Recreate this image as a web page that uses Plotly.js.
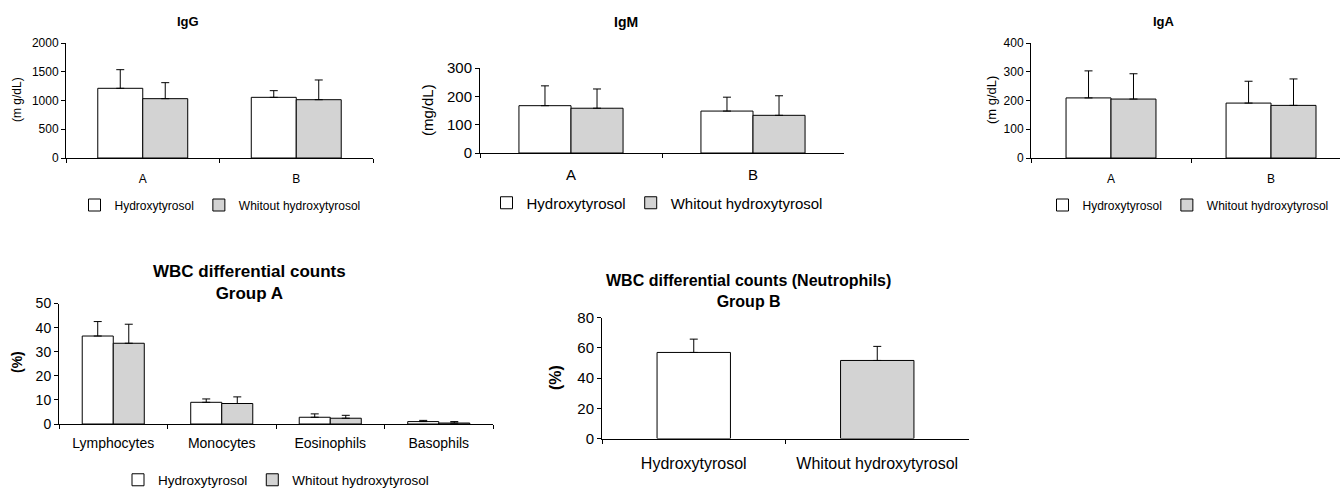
<!DOCTYPE html>
<html>
<head>
<meta charset="utf-8">
<script src="https://cdn.plot.ly/plotly-3.0.1.min.js"></script>
<style>html,body{margin:0;padding:0;background:#fff;}#chart{width:1340px;height:488px;}</style>
</head>
<body>
<div id="chart"></div>
<script>
// ---------- data ----------
const seriesNames = ['Hydroxytyrosol', 'Whitout hydroxytyrosol'];
const groupCategories = ['A', 'B'];

const igGHydroxy = [1212, 1055];
const igGHydroxySD = [324, 116];
const igGWithout = [1032, 1014];
const igGWithoutSD = [278, 343];

const igMHydroxy = [167, 148];
const igMHydroxySD = [70, 49];
const igMWithout = [158, 133];
const igMWithoutSD = [68, 69];

const igAHydroxy = [209, 191];
const igAHydroxySD = [94, 76];
const igAWithout = [205, 183];
const igAWithoutSD = [88, 92];

const wbcCategories = ['Lymphocytes', 'Monocytes', 'Eosinophils', 'Basophils'];
const wbcAHydroxy = [36.5, 9.0, 2.8, 1.0];
const wbcAHydroxySD = [6.0, 1.4, 1.4, 0.5];
const wbcAWithout = [33.5, 8.5, 2.4, 0.4];
const wbcAWithoutSD = [7.9, 2.75, 1.2, 0.6];

const neutroCategories = ['Hydroxytyrosol', 'Whitout hydroxytyrosol'];
const neutroValues = [56.9, 51.6];
const neutroSD = [8.8, 9.3];

// ---------- styling helpers ----------
const W = 1340, H = 488;
const px = x => x / W;
const py = y => 1 - y / H;
const FONT = 'Liberation Sans, Arial, Helvetica, sans-serif';
const colors = ['#ffffff', '#d3d3d3'];

function errUp(sd, w) {
  return {type: 'data', symmetric: false, array: sd, arrayminus: sd.map(() => 0),
          color: '#000', thickness: 1, width: w};
}
function barTrace(cats, vals, sd, idx, xa, ya, bw, legend, showlegend) {
  return {
    type: 'bar', x: cats, y: vals, name: seriesNames[idx],
    xaxis: xa, yaxis: ya,
    offset: idx === 0 ? -bw : 0, width: bw,
    marker: {color: colors[idx], line: {color: '#000', width: 1}},
    error_y: errUp(sd, 4),
    legend: legend, showlegend: showlegend, hoverinfo: 'skip'
  };
}

const data = [
  barTrace(groupCategories, igGHydroxy, igGHydroxySD, 0, 'x', 'y', 0.293, 'legend', true),
  barTrace(groupCategories, igGWithout, igGWithoutSD, 1, 'x', 'y', 0.293, 'legend', true),
  barTrace(groupCategories, igMHydroxy, igMHydroxySD, 0, 'x2', 'y2', 0.286, 'legend2', true),
  barTrace(groupCategories, igMWithout, igMWithoutSD, 1, 'x2', 'y2', 0.286, 'legend2', true),
  barTrace(groupCategories, igAHydroxy, igAHydroxySD, 0, 'x3', 'y3', 0.281, 'legend3', true),
  barTrace(groupCategories, igAWithout, igAWithoutSD, 1, 'x3', 'y3', 0.281, 'legend3', true),
  barTrace(wbcCategories, wbcAHydroxy, wbcAHydroxySD, 0, 'x4', 'y4', 0.286, 'legend4', true),
  barTrace(wbcCategories, wbcAWithout, wbcAWithoutSD, 1, 'x4', 'y4', 0.286, 'legend4', true),
  {
    type: 'bar', x: neutroCategories, y: neutroValues, xaxis: 'x5', yaxis: 'y5',
    offset: -0.2, width: 0.4,
    marker: {color: colors, line: {color: '#000', width: 1}},
    error_y: errUp(neutroSD, 4), showlegend: false, hoverinfo: 'skip'
  }
];

function xAx(d0, d1, anchor, size, standoff, range) {
  const a = {domain: [px(d0), px(d1)], anchor: anchor, type: 'category',
    showline: true, linecolor: '#000', linewidth: 1, ticks: 'outside', ticklen: 4,
    tickcolor: '#000', tickson: 'boundaries', showgrid: false, zeroline: false,
    tickfont: {family: FONT, size: size, color: '#000'}, ticklabelstandoff: standoff,
    fixedrange: true};
  if (range) a.range = range;
  return a;
}
function yAx(b0, b1, anchor, max, dtick, size) {
  return {domain: [py(b0), py(b1)], anchor: anchor, range: [0, max], dtick: dtick,
    showline: true, linecolor: '#000', linewidth: 1, ticks: 'outside', ticklen: 4,
    tickcolor: '#000', showgrid: false, zeroline: false,
    tickfont: {family: FONT, size: size, color: '#000'}, fixedrange: true};
}
function legendAt(x, y, size) {
  return {orientation: 'h', x: px(x), y: py(y), xanchor: 'center', yanchor: 'middle',
    xref: 'paper', yref: 'paper', bgcolor: 'rgba(0,0,0,0)',
    font: {family: FONT, size: size, color: '#000'}, itemclick: false, itemdoubleclick: false};
}
function note(text, x, y, size, bold, angle) {
  return {text: bold ? '<b>' + text + '</b>' : text, x: px(x), y: py(y), xref: 'paper', yref: 'paper',
    xanchor: 'center', yanchor: 'middle', showarrow: false, textangle: angle || 0,
    font: {family: FONT, size: size, color: '#000'}};
}

const layout = {
  width: W, height: H, margin: {l: 0, r: 0, t: 0, b: 0, autoexpand: false},
  paper_bgcolor: '#fff', plot_bgcolor: 'rgba(0,0,0,0)',
  barmode: 'overlay', showlegend: true,
  font: {family: FONT, color: '#000'},
  xaxis: xAx(66, 373, 'y', 12, 10),
  yaxis: yAx(158, 43, 'x', 2000, 500, 12),
  xaxis2: xAx(480, 844, 'y2', 15, 8),
  yaxis2: yAx(153, 68, 'x2', 300, 100, 15),
  xaxis3: xAx(1031, 1340, 'y3', 12, 10, [-0.5, 1.431]),
  yaxis3: yAx(158, 43, 'x3', 400, 100, 12),
  xaxis4: xAx(59, 493, 'y4', 14, 6),
  yaxis4: yAx(424, 303.5, 'x4', 50, 10, 14),
  xaxis5: xAx(602, 969, 'y5', 16, 10),
  yaxis5: yAx(438.5, 317.5, 'x5', 80, 20, 15),
  legend: legendAt(220, 205, 12),
  legend2: legendAt(657, 203, 15),
  legend3: legendAt(1188, 205, 12),
  legend4: legendAt(276, 480, 13.5),
  annotations: [
    note('IgG', 188, 22, 13, true),
    note('IgM', 626, 22, 14, true),
    note('IgA', 1164, 22, 13, true),
    note('WBC differential counts<br>Group A', 249, 282, 17, true),
    note('WBC differential counts (Neutrophils)<br>Group B', 748, 291, 16, true),
    note('(m g/dL)', 17, 100, 12, false, -90),
    note('(mg/dL)', 428, 110, 15, false, -90),
    note('(m g/dL)', 991, 100, 13, false, -90),
    note('(%)', 17, 362, 14, true, -90),
    note('(%)', 555, 378, 16, true, -90)
  ]
};

Plotly.newPlot('chart', data, layout, {staticPlot: true, displayModeBar: false});
</script>
</body>
</html>
